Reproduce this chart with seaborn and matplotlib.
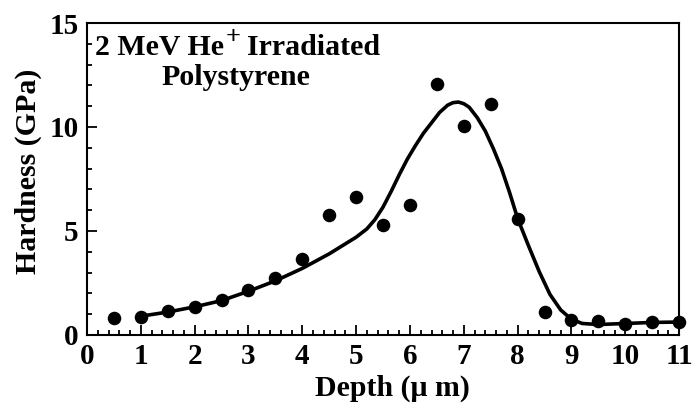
import matplotlib
matplotlib.use("Agg")
import matplotlib.pyplot as plt
import seaborn as sns
import pandas as pd
from matplotlib.ticker import MultipleLocator

# measured data points
depth_pts = [0.5, 1.0, 1.5, 2.0, 2.5, 3.0, 3.5, 4.0, 4.5, 5.0, 5.5, 6.0, 6.5, 7.0, 7.5, 8.0, 8.5, 9.0, 9.5, 10.0, 10.5, 11.0]
hard_pts = [0.82, 0.87, 1.15, 1.35, 1.68, 2.16, 2.74, 3.65, 5.77, 6.63, 5.3, 6.25, 12.07, 10.05, 11.1, 5.58, 1.1, 0.72, 0.67, 0.53, 0.62, 0.62]

# fitted curve
depth_fit = [1.0, 1.5, 2.0, 2.5, 3.0, 3.5, 4.0, 4.5, 5.0, 5.2, 5.35, 5.5, 5.65, 5.8, 5.95, 6.1, 6.25, 6.4, 6.55, 6.7, 6.8, 6.9, 7.0, 7.1, 7.25, 7.4, 7.55, 7.7, 7.85, 8.0, 8.2, 8.4, 8.6, 8.8, 9.0, 9.2, 9.5, 10.0, 10.5, 11.0]
hard_fit = [0.9, 1.1, 1.35, 1.65, 2.1, 2.6, 3.2, 3.9, 4.7, 5.1, 5.55, 6.15, 6.9, 7.7, 8.45, 9.1, 9.7, 10.2, 10.7, 11.05, 11.17, 11.2, 11.12, 10.95, 10.45, 9.8, 8.95, 8.0, 6.85, 5.6, 4.3, 3.05, 1.95, 1.2, 0.75, 0.55, 0.5, 0.55, 0.6, 0.62]

x_ticks = list(range(0, 12))
y_ticks = [0, 5, 10, 15]

pts = pd.DataFrame({"depth": depth_pts, "hardness": hard_pts})
fit = pd.DataFrame({"depth": depth_fit, "hardness": hard_fit})

sns.set_theme(style="ticks")
plt.rcParams["font.family"] = ["Liberation Serif", "DejaVu Serif"]
plt.rcParams["font.weight"] = "bold"
plt.rcParams["text.color"] = "black"
plt.rcParams["axes.labelcolor"] = "black"
plt.rcParams["xtick.color"] = "black"
plt.rcParams["ytick.color"] = "black"

fig = plt.figure(figsize=(6.93, 4.04), dpi=100)
ax = fig.add_axes([0.1255, 0.171, 0.8545, 0.772])

sns.lineplot(data=fit, x="depth", y="hardness", ax=ax, color="black", linewidth=2.6, sort=False)
sns.scatterplot(data=pts, x="depth", y="hardness", ax=ax, color="black", s=95, edgecolor="black", linewidth=0, zorder=5, clip_on=False)

ax.set_xlim(0, 11)
ax.set_ylim(0, 15)
ax.set_xticks(x_ticks)
ax.set_yticks(y_ticks)
ax.xaxis.set_minor_locator(MultipleLocator(0.2))
ax.yaxis.set_minor_locator(MultipleLocator(1))
ax.tick_params(which="both", direction="in", top=False, right=False, width=1.3, colors="black")
ax.tick_params(which="major", length=7, labelsize=21, pad=6)
ax.tick_params(which="minor", length=3.5)
for lab in ax.get_xticklabels() + ax.get_yticklabels():
    lab.set_fontweight("bold")
for sp in ax.spines.values():
    sp.set_visible(True)
    sp.set_linewidth(1.5)
    sp.set_color("black")

ax.set_xlabel("Depth (μ m)", fontsize=21.5, fontweight="bold")
ax.set_ylabel("Hardness (GPa)", fontsize=21.5, fontweight="bold")
ax.xaxis.label.set_va("center")
ax.xaxis.label.set_ha("center")
ax.yaxis.label.set_rotation_mode("default")
ax.yaxis.label.set_va("center")
ax.yaxis.label.set_ha("center")
ax.xaxis.set_label_coords(0.515, -0.172)
ax.yaxis.set_label_coords(-0.0997, 0.526)

title = ax.text(0.0135, 0.923, "2 MeV He", transform=ax.transAxes, fontsize=21.5, fontweight="bold", ha="left", va="center")
fig.canvas.draw()
bb = title.get_window_extent().transformed(ax.transAxes.inverted())
plus = ax.text(bb.x1 + 0.002, 0.955, "+", transform=ax.transAxes, fontsize=19, fontweight="bold", ha="left", va="center")
fig.canvas.draw()
bb2 = plus.get_window_extent().transformed(ax.transAxes.inverted())
ax.text(bb2.x1 + 0.012, 0.923, "Irradiated", transform=ax.transAxes, fontsize=21.5, fontweight="bold", ha="left", va="center")
ax.text(0.252, 0.824, "Polystyrene", transform=ax.transAxes, fontsize=21.5, fontweight="bold", ha="center", va="center")

fig.savefig("out.png", dpi=100)
